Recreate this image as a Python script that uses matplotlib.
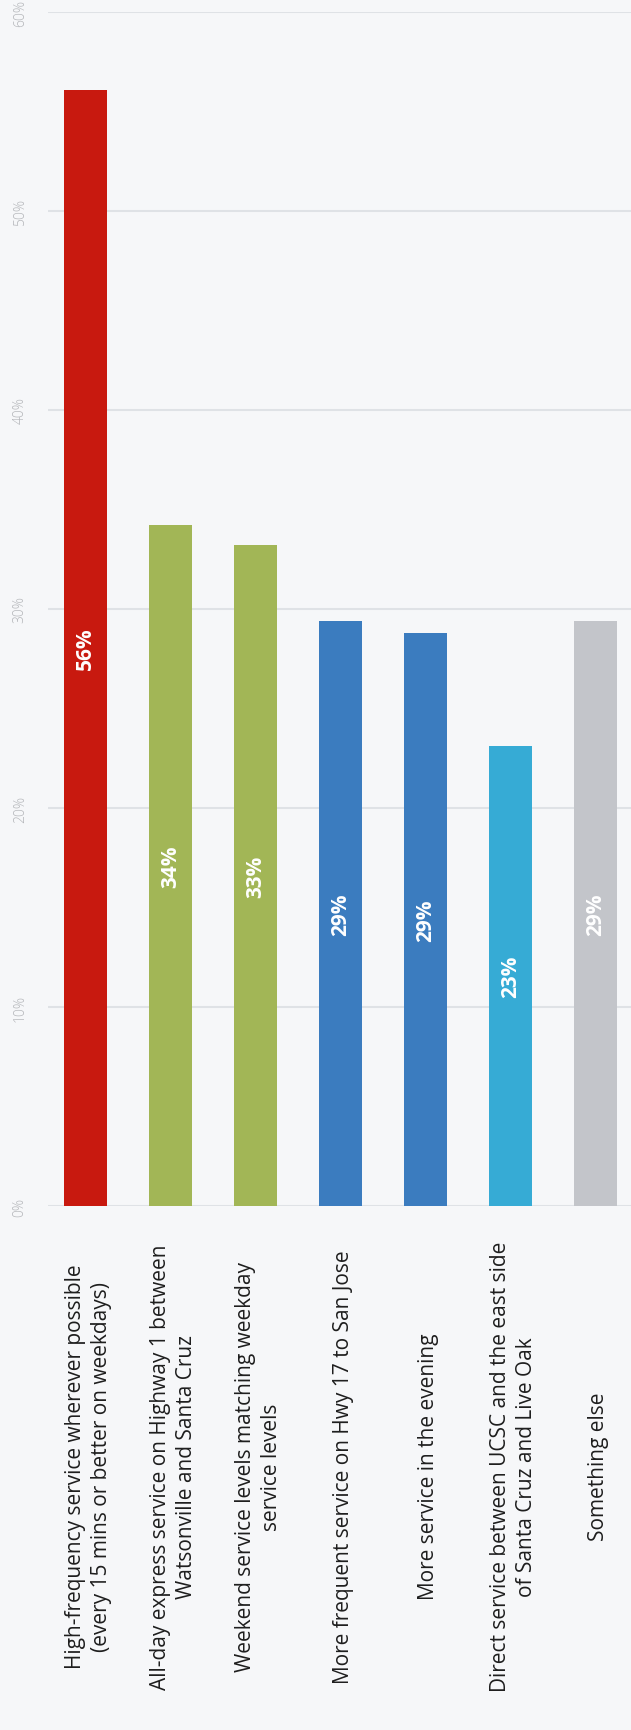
import matplotlib
matplotlib.use('Agg')
import matplotlib.pyplot as plt
import matplotlib.transforms as mtransforms

# data
categories = [
    'High-frequency service wherever possible\n(every 15 mins or better on weekdays)',
    'All-day express service on Highway 1 between\nWatsonville and Santa Cruz',
    'Weekend service levels matching weekday\nservice levels',
    'More frequent service on Hwy 17 to San Jose',
    'More service in the evening',
    'Direct service between UCSC and the east side\nof Santa Cruz and Live Oak',
    'Something else',
]
values = [56.1, 34.2, 33.2, 29.4, 28.8, 23.1, 29.4]
value_labels = ['56%', '34%', '33%', '29%', '29%', '23%', '29%']
colors = ['#c8190f', '#a2b656', '#a2b656', '#3b7cbf', '#3b7cbf', '#36abd5', '#c3c5ca']
ticks = [0, 10, 20, 30, 40, 50, 60]
tick_labels = ['0%', '10%', '20%', '30%', '40%', '50%', '60%']

plt.rcParams['font.family'] = ['Open Sans', 'DejaVu Sans']

bg = '#f6f7f9'
W, H = 631, 1731
fig = plt.figure(figsize=(W / 100, H / 100), dpi=100, facecolor=bg)
# plot area: left 48px, 0% at y=1207, 60% at y=13
ax = fig.add_axes([48 / W, 1 - 1207 / H, 1 - 48 / W, (1207 - 13) / H])
ax.set_facecolor(bg)

x = list(range(len(values)))
ax.bar(x, values, width=0.5, color=colors, zorder=3)
ax.set_xlim(-0.44, 6.42)
ax.set_ylim(0, 60)

ax.set_yticks(ticks)
ax.set_yticklabels(tick_labels, rotation=90, va='center', ha='center',
                   color='#b3b5b9', fontsize=10, fontweight='light')
ax.tick_params(axis='y', length=0, pad=20)
ax.set_xticks([])
ax.grid(axis='y', color='#dfe2e6', linewidth=1.5, zorder=0)
for s in ax.spines.values():
    s.set_visible(False)

for xi, v, lab in zip(x, values, value_labels):
    ax.text(xi, v / 2, lab, rotation=90, ha='center', va='center',
            color='white', fontsize=15, fontweight='bold', zorder=4)

trans = mtransforms.blended_transform_factory(ax.transData, fig.transFigure)
for xi, cat in zip(x, categories):
    ax.text(xi + 0.04, 1 - 1467 / H, cat, rotation=90, ha='center', va='center',
            multialignment='center', fontsize=15, color='#1e1e1e',
            transform=trans, linespacing=1.3)

fig.savefig('out.png', dpi=100, facecolor=bg)
